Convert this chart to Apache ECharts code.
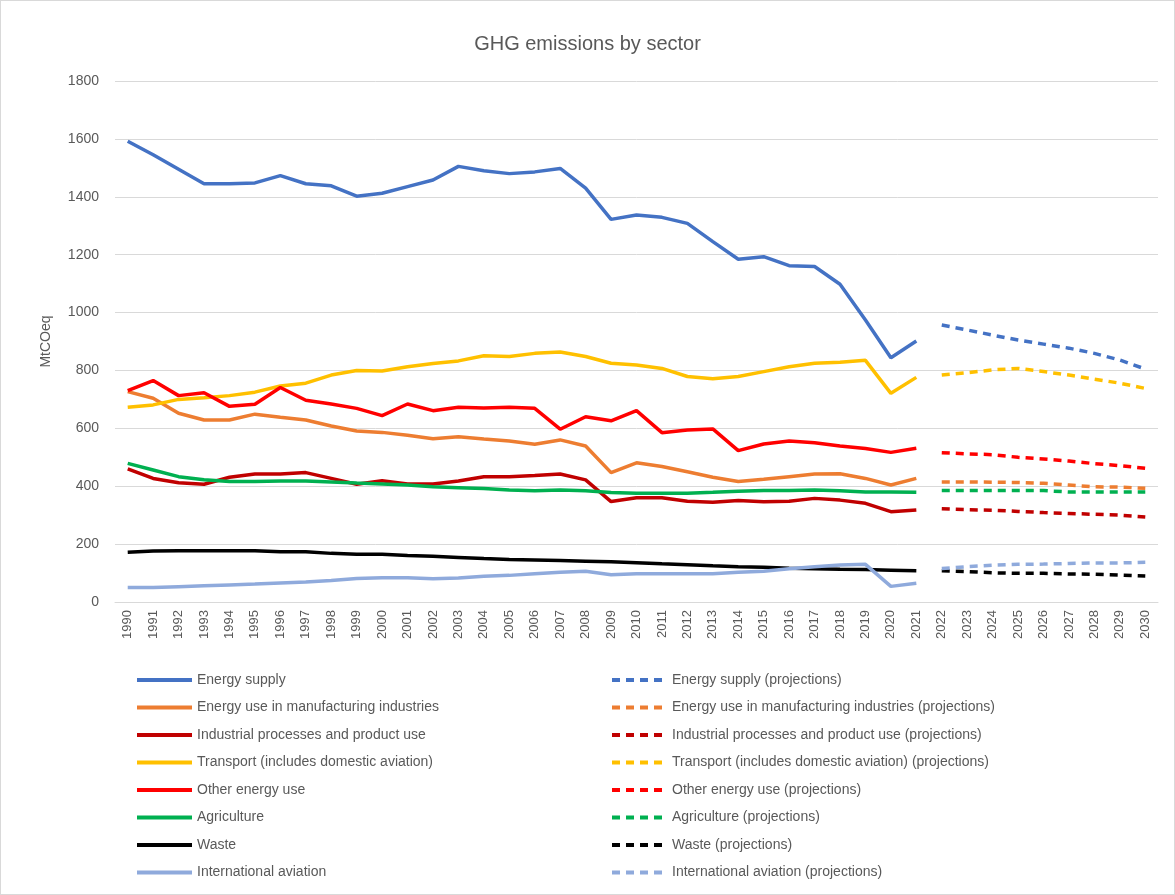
<!DOCTYPE html>
<html>
<head>
<meta charset="utf-8">
<script src="https://cdn.jsdelivr.net/npm/echarts@6/dist/echarts.min.js"></script>
<style>
  html, body { margin: 0; padding: 0; background: #fff; }
  #chart { width: 1173px; height: 893px; border: 1px solid #d9d9d9; }
</style>
</head>
<body>
<div id="chart"></div>
<script>
// years 1990..2030
const years = [];
for (let y = 1990; y <= 2030; y++) years.push(String(y));

// historical values 1990-2021 (MtCO2eq)
const energySupply = [1592, 1545, 1495, 1445, 1445, 1448, 1473, 1445, 1438, 1402, 1412, 1435, 1458, 1505, 1490, 1480, 1486, 1498, 1430, 1322, 1337, 1329, 1308, 1245, 1184, 1193, 1162, 1159, 1098, 974, 844, 902];
const manufacturing = [727, 704, 652, 629, 629, 649, 638, 629, 608, 591, 586, 576, 564, 571, 563, 556, 545, 560, 539, 447, 481, 468, 450, 431, 416, 424, 433, 442, 443, 427, 404, 427];
const industrial = [460, 427, 412, 407, 431, 442, 442, 447, 427, 407, 419, 408, 408, 418, 433, 433, 437, 442, 422, 347, 360, 360, 348, 345, 351, 346, 348, 358, 352, 341, 312, 318];
const transport = [673, 681, 700, 706, 713, 725, 746, 756, 784, 800, 798, 813, 824, 833, 851, 848, 859, 864, 848, 825, 819, 807, 779, 771, 779, 796, 813, 825, 828, 835, 721, 776];
const otherEnergy = [730, 765, 713, 723, 676, 683, 741, 697, 684, 669, 644, 684, 661, 673, 670, 673, 669, 597, 640, 626, 661, 585, 594, 598, 523, 546, 556, 550, 539, 530, 517, 531];
const agriculture = [479, 456, 433, 422, 416, 416, 418, 418, 415, 411, 408, 404, 398, 395, 392, 387, 384, 387, 384, 378, 376, 376, 376, 379, 383, 385, 385, 387, 384, 380, 380, 379];
const waste = [172, 176, 177, 177, 177, 177, 174, 174, 168, 165, 165, 161, 158, 154, 150, 147, 145, 143, 141, 139, 136, 132, 129, 125, 122, 120, 117, 115, 113, 112, 110, 108];
const intlAviation = [50, 50, 53, 56, 59, 62, 66, 69, 74, 81, 84, 84, 80, 83, 89, 92, 98, 103, 106, 94, 98, 98, 98, 98, 103, 106, 115, 122, 128, 130, 54, 65];

// projections 2022-2030
const energySupplyProj = [957, 940, 922, 905, 891, 877, 859, 836, 805];
const manufacturingProj = [415, 415, 414, 413, 410, 404, 398, 397, 393];
const industrialProj = [322, 319, 317, 313, 309, 306, 303, 300, 294];
const transportProj = [784, 792, 802, 807, 796, 784, 770, 756, 738];
const otherEnergyProj = [516, 512, 509, 500, 494, 487, 478, 471, 462];
const agricultureProj = [385, 385, 385, 385, 385, 380, 380, 380, 380];
const wasteProj = [108, 105, 101, 99, 99, 97, 96, 93, 90];
const intlAviationProj = [116, 122, 127, 130, 131, 133, 135, 135, 137];

const sectors = [
  { name: "Energy supply", color: "#4472C4", hist: energySupply, proj: energySupplyProj },
  { name: "Energy use in manufacturing industries", color: "#ED7D31", hist: manufacturing, proj: manufacturingProj },
  { name: "Industrial processes and product use", color: "#C00000", hist: industrial, proj: industrialProj },
  { name: "Transport (includes domestic aviation)", color: "#FFC000", hist: transport, proj: transportProj },
  { name: "Other energy use", color: "#FF0000", hist: otherEnergy, proj: otherEnergyProj },
  { name: "Agriculture", color: "#00B050", hist: agriculture, proj: agricultureProj },
  { name: "Waste", color: "#000000", hist: waste, proj: wasteProj },
  { name: "International aviation", color: "#8FAADC", hist: intlAviation, proj: intlAviationProj },
];

const padNull = (n) => new Array(n).fill(null);
const series = [];
sectors.forEach((s) => {
  series.push({
    name: s.name,
    type: "line",
    symbol: "none",
    color: s.color,
    lineStyle: { width: 3.5, color: s.color },
    data: s.hist.concat(padNull(years.length - s.hist.length)),
  });
});
sectors.forEach((s) => {
  series.push({
    name: s.name + " (projections)",
    type: "line",
    symbol: "none",
    color: s.color,
    lineStyle: { width: 3.5, color: s.color, type: [8, 6] },
    data: padNull(years.length - s.proj.length).concat(s.proj),
  });
});

const fontFam = "'Liberation Sans', 'DejaVu Sans', sans-serif";
const legendBase = {
  orient: "vertical",
  top: 672,
  padding: 0,
  itemWidth: 55,
  itemHeight: 14,
  itemGap: 13.5,
  itemStyle: { opacity: 0 },
  lineStyle: { width: 4 },
  textStyle: { color: "#595959", fontSize: 14, fontFamily: fontFam },
};

const chart = echarts.init(document.getElementById("chart"));
chart.setOption({
  animation: false,
  title: {
    text: "GHG emissions by sector",
    left: "center",
    top: 28,
    textStyle: { color: "#595959", fontSize: 20, fontWeight: "normal", fontFamily: fontFam },
  },
  legend: [
    Object.assign({}, legendBase, { left: 134, data: sectors.map((s) => s.name) }),
    Object.assign({}, legendBase, { left: 609, data: sectors.map((s) => s.name + " (projections)") }),
  ],
  grid: { left: 114, right: 16, top: 80, bottom: 292, containLabel: false },
  xAxis: {
    type: "category",
    data: years,
    boundaryGap: true,
    axisLine: { show: true, lineStyle: { color: "#d9d9d9" } },
    axisTick: { show: false },
    axisLabel: { rotate: 90, color: "#595959", fontSize: 13, fontFamily: fontFam, interval: 0, margin: 8 },
  },
  yAxis: {
    type: "value",
    min: 0,
    max: 1800,
    interval: 200,
    name: "MtCOeq",
    nameLocation: "middle",
    nameGap: 62,
    nameTextStyle: { color: "#595959", fontSize: 14, fontFamily: fontFam },
    axisLine: { show: false },
    axisTick: { show: false },
    axisLabel: { color: "#595959", fontSize: 14, fontFamily: fontFam, margin: 16, formatter: (v) => String(v) },
    splitLine: { lineStyle: { color: "#d9d9d9", width: 1 } },
  },
  series: series,
});
</script>
</body>
</html>
